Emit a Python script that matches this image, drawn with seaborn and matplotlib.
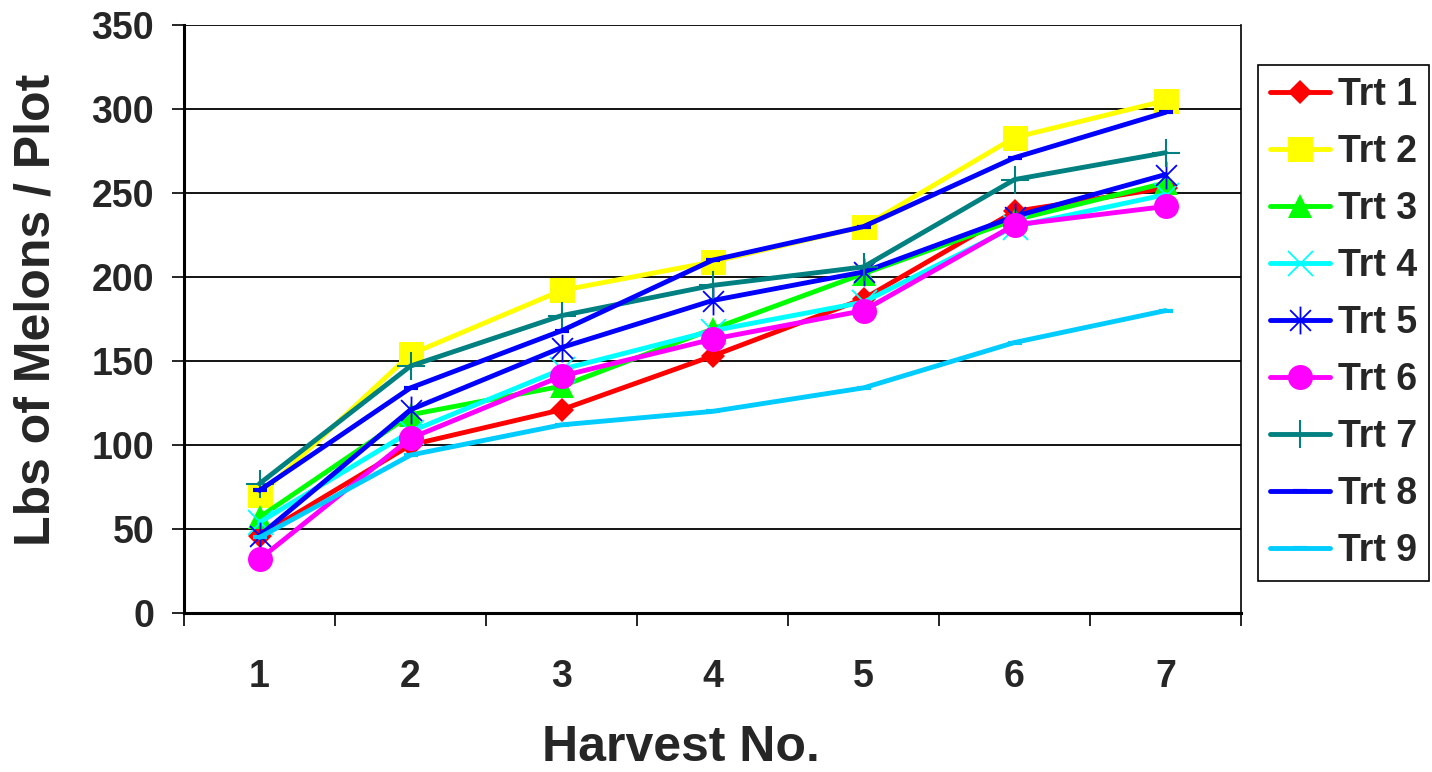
import seaborn as sns
import matplotlib.pyplot as plt
from matplotlib.path import Path
import numpy as np

# harvest numbers and pounds of melons per plot for each treatment
harvest = [1, 2, 3, 4, 5, 6, 7]
trt1 = [46, 100, 121, 153, 187, 239, 253]
trt2 = [70, 154, 192, 209, 230, 283, 305]
trt3 = [57, 118, 135, 169, 202, 234, 256]
trt4 = [54, 108, 145, 168, 185, 230, 249]
trt5 = [46, 121, 158, 186, 203, 236, 261]
trt6 = [32, 104, 141, 163, 180, 231, 242]
trt7 = [77, 147, 177, 195, 206, 258, 274]
trt8 = [73, 134, 168, 210, 230, 271, 298]
trt9 = [45, 94, 112, 120, 134, 161, 180]

labels = ["Trt 1", "Trt 2", "Trt 3", "Trt 4", "Trt 5", "Trt 6", "Trt 7", "Trt 8", "Trt 9"]
series = [trt1, trt2, trt3, trt4, trt5, trt6, trt7, trt8, trt9]

# excel style star: an x with a vertical bar through it
star = Path([(0, -1), (0, 1), (-0.75, -0.75), (0.75, 0.75), (-0.75, 0.75), (0.75, -0.75)],
            [Path.MOVETO, Path.LINETO, Path.MOVETO, Path.LINETO, Path.MOVETO, Path.LINETO])

styles = [
    dict(color="#FF0000", marker="D", markersize=12.5, markeredgewidth=0),
    dict(color="#FFFF00", marker="s", markersize=18, markeredgewidth=0),
    dict(color="#00FF00", marker="^", markersize=17, markeredgewidth=0),
    dict(color="#00FFFF", marker="x", markersize=18, markeredgewidth=1.3),
    dict(color="#0000FF", marker=star, markersize=20, markeredgewidth=1.3),
    dict(color="#FF00FF", marker="o", markersize=18, markeredgewidth=0),
    dict(color="#008080", marker="+", markersize=20, markeredgewidth=1.5),
    dict(color="#0000FF", marker="_", markersize=10, markeredgewidth=3),
    dict(color="#00CCFF", marker="_", markersize=10, markeredgewidth=3),
]

sns.set_style("white")
plt.rcParams['font.family'] = ['Liberation Sans', 'DejaVu Sans']
plt.rcParams['font.weight'] = 'bold'

fig = plt.figure(figsize=(14.32, 7.72), dpi=100)
ax = fig.add_axes([184 / 1432, 1 - 613 / 772, (1241 - 184) / 1432, (613 - 25) / 772])

for lab, vals, st in zip(labels, series, styles):
    sns.lineplot(x=harvest, y=vals, ax=ax, label=lab, linewidth=3.5,
                 markeredgecolor=st["color"], **st)

ax.set_xlim(0.5, 7.5)
ax.set_ylim(0, 350)
ax.set_yticks(np.arange(0, 351, 50))
ax.set_xticks(harvest)
ax.set_xticks(np.arange(0.5, 7.6, 1), minor=True)

ax.yaxis.grid(True, color="black", linewidth=1.3)
ax.xaxis.grid(False)
ax.set_axisbelow(True)

for side in ["left", "bottom"]:
    ax.spines[side].set_linewidth(2.2)
    ax.spines[side].set_color("black")
ax.spines["top"].set_visible(False)
ax.spines["right"].set_linewidth(1.2)
ax.spines["right"].set_color("black")

ax.tick_params(axis="y", which="major", direction="out", length=8.5, width=1.2,
               color="black", pad=13, labelsize=27, left=True)
ax.tick_params(axis="x", which="major", length=0, pad=33, labelsize=27, bottom=True)
ax.tick_params(axis="x", which="minor", direction="out", length=9, width=1.2,
               color="black", bottom=True)
for t in ax.get_xticklabels() + ax.get_yticklabels():
    t.set_fontweight("bold")

ax.set_xlabel("Harvest No.", fontsize=36, fontweight="bold")
ax.set_ylabel("Lbs of Melons / Plot", fontsize=36, fontweight="bold")
ax.xaxis.set_label_coords(0.47, -0.19)
ax.yaxis.set_label_coords(-0.118, 0.515)

leg = ax.legend(loc="upper left", bbox_to_anchor=(1258 / 1432, 1 - 65 / 772),
                bbox_transform=fig.transFigure, borderaxespad=0,
                prop={"size": 27, "weight": "bold"}, frameon=True, fancybox=False,
                edgecolor="black", framealpha=1, handlelength=1.6, handletextpad=0.2,
                labelspacing=0.56, borderpad=0.32)
leg.get_frame().set_linewidth(1.2)

fig.savefig("out.png", dpi=100)
